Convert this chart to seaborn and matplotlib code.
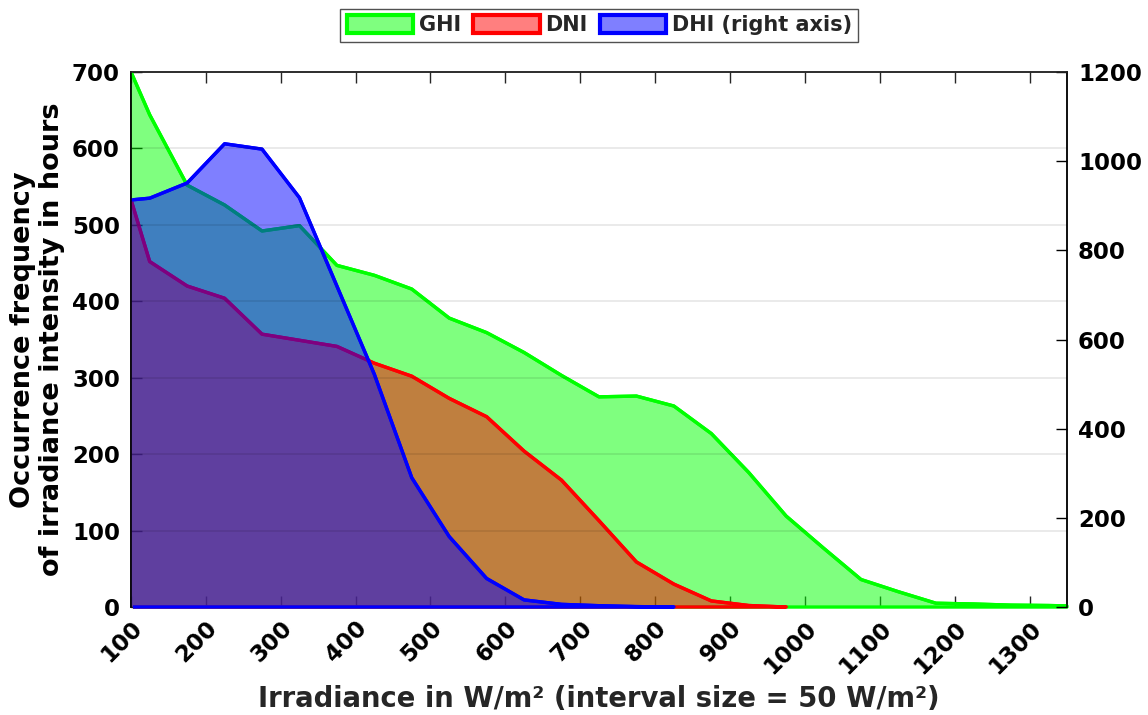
import matplotlib
matplotlib.use("Agg")
import matplotlib.pyplot as plt
from matplotlib.patches import Patch, Rectangle
from matplotlib.ticker import FixedLocator
from matplotlib.transforms import ScaledTranslation
import seaborn as sns
import numpy as np
import pandas as pd

# bin centres (W/m2) and hours per bin
x_ghi = [100, 125, 175, 225, 275, 325, 375, 425, 475, 525, 575, 625, 675, 725,
         775, 825, 875, 925, 975, 1025, 1075, 1125, 1175, 1225, 1275, 1325, 1350]
ghi = [700, 644, 552, 526, 492, 499, 447, 434, 416, 378, 359, 333, 303, 275,
       276, 263, 227, 176, 119, 77, 36, 20, 5, 4, 2.5, 2, 1.5]

x_dni = [100, 125, 175, 225, 275, 325, 375, 425, 475, 525, 575, 625, 675, 725,
         775, 825, 875, 925, 975]
dni = [533, 452, 420, 404, 357, 349, 341, 319, 302, 273, 249, 204, 166, 113,
       59, 30, 8, 2, 0]

x_dhi = [100, 125, 175, 225, 275, 325, 375, 425, 475, 525, 575, 625, 675, 725,
         775, 825]
dhi = [913, 917, 951, 1039, 1027, 918, 720, 522, 290, 158, 64, 16, 6, 3, 1, 0]

xticks = [100, 200, 300, 400, 500, 600, 700, 800, 900, 1000, 1100, 1200, 1300]
left_ticks = [0, 100, 200, 300, 400, 500, 600, 700]
right_ticks = [0, 200, 400, 600, 800, 1000, 1200]

df_ghi = pd.DataFrame({"x": x_ghi, "y": ghi})
df_dni = pd.DataFrame({"x": x_dni, "y": dni})
df_dhi = pd.DataFrame({"x": x_dhi, "y": dhi})

sns.set_theme(style="white")
plt.rcParams['font.family'] = ['DejaVu Sans']
plt.rcParams['font.weight'] = 'bold'
plt.rcParams['axes.labelweight'] = 'bold'

green, red, blue = (0, 1, 0), (1, 0, 0), (0, 0, 1)
lw = 2.4
tick_fs = 16.5
label_fs = 19.8

fig = plt.figure(figsize=(11.48, 7.15), dpi=100)
ax = fig.add_axes([0.1141, 0.151, 0.8153, 0.7483])
ax2 = ax.twinx()

def area(axis, df, col, z):
    axis.fill_between(df["x"], df["y"], 0, facecolor=col + (0.5,),
                      edgecolor="none", zorder=z)
    # outline of the area (incl. baseline), but not along the left axis
    edge = axis.fill_between(df["x"], df["y"], 0, facecolor="none",
                             edgecolor=col, linewidth=lw, zorder=z + 0.02)
    edge.set_clip_path(Rectangle((0.0025, -0.01), 1.0, 1.02,
                                 transform=axis.transAxes))
    sns.lineplot(data=df, x="x", y="y", ax=axis, color=col, linewidth=lw,
                 zorder=z + 0.05, estimator=None, sort=False)

area(ax, df_ghi, green, 3)
area(ax, df_dni, red, 3.2)
area(ax2, df_dhi, blue, 3)

ax.set_xlim(100, 1350)
ax.set_ylim(0, 700)
ax2.set_ylim(0, 1200)
ax.set_xticks(xticks)
ax.set_xticklabels([str(t) for t in xticks], rotation=45, ha="right",
                   rotation_mode="anchor", fontsize=tick_fs, fontweight="bold")
shift = ScaledTranslation(8 / 100, 0, fig.dpi_scale_trans)
for lab in ax.get_xticklabels():
    lab.set_transform(lab.get_transform() + shift)
ax.set_yticks(left_ticks)
ax.set_yticklabels([str(t) for t in left_ticks], fontsize=tick_fs, fontweight="bold")
ax2.set_yticks(right_ticks)
ax2.set_yticklabels([str(t) for t in right_ticks], fontsize=tick_fs, fontweight="bold")

# gridlines of the left axis, drawn on top of everything
ax2.yaxis.set_minor_locator(FixedLocator([t * 1200 / 700 for t in left_ticks]))
ax2.grid(which="minor", axis="y", color="black", alpha=0.09, linewidth=1.3)
ax2.yaxis.set_zorder(5)
ax.grid(False)

dark = "#262626"
ax.tick_params(axis="x", direction="in", top=True, bottom=True, length=8,
               width=1, color=dark, pad=7, labelcolor="black")
ax.tick_params(axis="y", direction="in", left=True, length=8, width=1,
               color="black", pad=8, labelcolor="black")
ax2.tick_params(axis="y", which="major", direction="in", right=True, left=False,
                length=8, width=1, color="black", pad=8, labelcolor="black")
ax2.tick_params(axis="y", which="minor", length=0)

ax.spines["top"].set_color(dark)
ax.spines["bottom"].set_color(dark)
ax.spines["left"].set_color("black")
ax2.spines["left"].set_color("black")
ax2.spines["right"].set_color("black")
ax2.spines["bottom"].set_visible(False)
ax2.spines["top"].set_color(dark)
for a in (ax, ax2):
    for s in a.spines.values():
        s.set_linewidth(1.1)
for s in ("left", "right", "top"):
    ax2.spines[s].set_zorder(6)

ax.set_xlabel("Irradiance in W/m² (interval size = 50 W/m²)", fontsize=label_fs,
              fontweight="bold", color=dark, labelpad=5)
ax.set_ylabel("Occurrence frequency\nof irradiance intensity in hours",
              fontsize=19.5, fontweight="bold", color="black", labelpad=5,
              linespacing=1.15)
ax2.set_ylabel("")

handles = [Patch(facecolor=c + (0.5,), edgecolor=c, linewidth=3, label=l)
           for c, l in [(green, "GHI"), (red, "DNI"), (blue, "DHI (right axis)")]]
leg = fig.legend(handles=handles, loc="center", bbox_to_anchor=(0.522, 0.965),
                 ncol=3, frameon=True, fancybox=False,
                 handlelength=3.2, handleheight=1.0, columnspacing=0.6,
                 handletextpad=0.25, borderpad=0.3, borderaxespad=0,
                 prop={"weight": "bold", "size": 15})
leg.get_frame().set_edgecolor(dark)
leg.get_frame().set_linewidth(1)

fig.savefig("out.png", dpi=100)
